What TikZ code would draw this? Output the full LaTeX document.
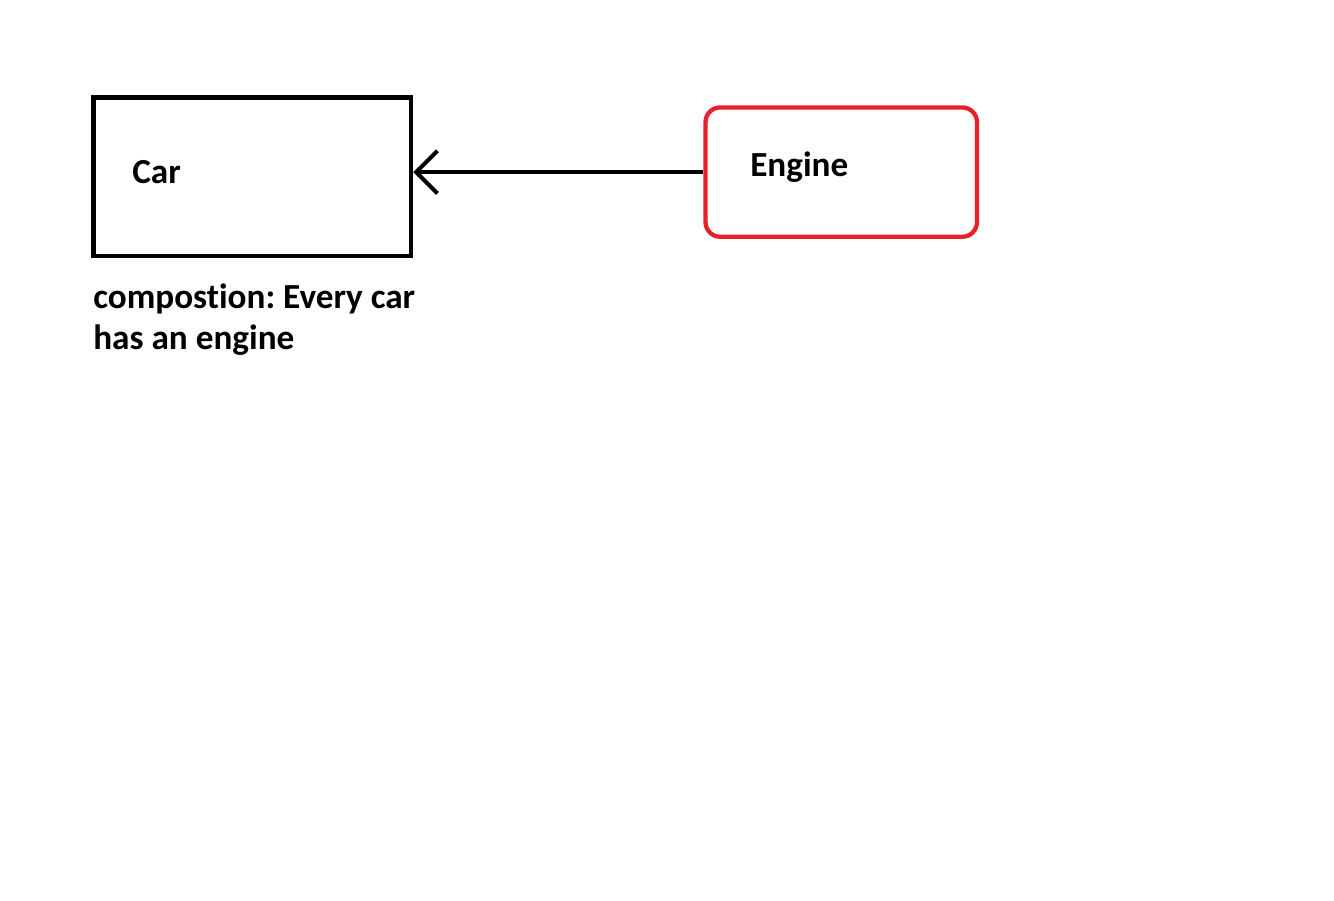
\documentclass[tikz,border=0pt]{standalone}
\usepackage{fontspec}
\setmainfont{Carlito}[Ligatures={NoCommon,NoContextual,NoRequired}]
\usetikzlibrary{arrows.meta}
\definecolor{engred}{HTML}{E8202A}
\frenchspacing
\tikzset{
  lbl/.style={font=\fontsize{26.4}{30.75}\selectfont\bfseries, inner sep=0pt, anchor=base west},
  carbox/.style={draw=black, line width=3.6pt, minimum width=238pt, minimum height=119pt, inner sep=0pt},
  engbox/.style={draw=engred, line width=3.2pt, rounded corners=11pt, minimum width=203.6pt, minimum height=97pt, inner sep=0pt},
  link/.style={draw=black, line width=3pt, -{Straight Barb[length=16pt,width=32pt,line width=3pt]}}
}
\begin{document}
\begin{tikzpicture}[x=0.75pt,y=-0.75pt]
\useasboundingbox (0,0) rectangle (1334,900);
\node[carbox] (car) at (252.25,176.75) {};
\node[engbox] (engine) at (841.25,172.1) {};
\node[lbl] (carlabel) at (132,183) {Car};
\node[lbl] (englabel) at (750,176) {Engine};
\node[lbl, align=left, anchor=base west] (note) at (93,349) {compostion: Every car\\has an engine};
\draw[link] (engine.west) -- (engine.west -| car.east);
\end{tikzpicture}
\end{document}
